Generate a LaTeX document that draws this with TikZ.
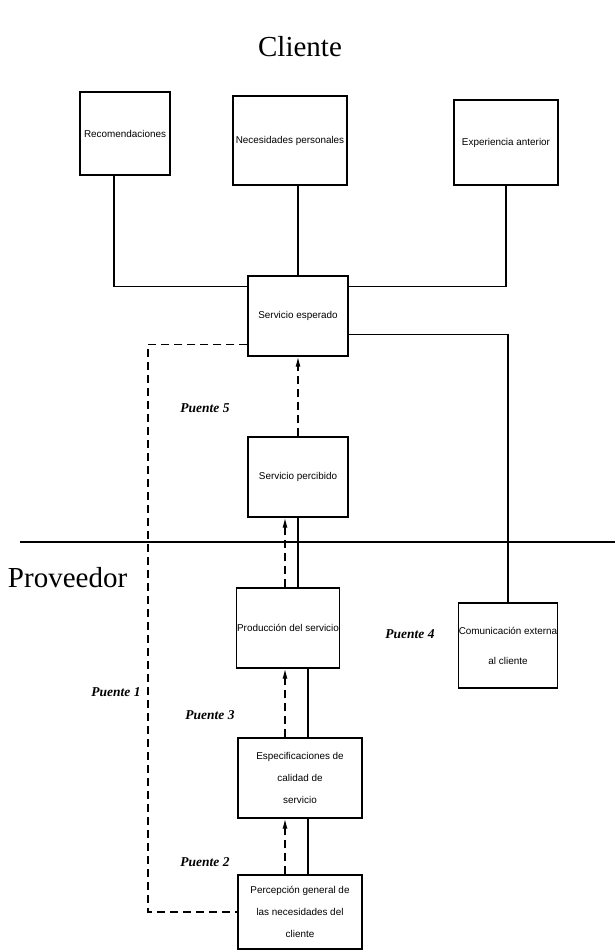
\documentclass[tikz,border=0pt]{standalone}
\usepackage{fontspec}
\setmainfont{Liberation Serif}
\setsansfont{Liberation Sans}
\usepackage{tikz}
\usetikzlibrary{arrows.meta}

\tikzset{
  caja/.style={draw, line width=1.3pt, inner sep=0.5pt, align=center,
               font=\sffamily\fontsize{9.9}{22}\selectfont},
  puente/.style={dashed, dash pattern=on 8pt off 5pt, line width=1.3pt,
                 -{Latex[length=10pt, width=5pt]}},
  etiqueta/.style={font=\bfseries\itshape\fontsize{13.5}{16}\selectfont},
  titulo/.style={font=\fontsize{29}{34}\selectfont}
}

\begin{document}
\begin{tikzpicture}[x=1pt, y=-1pt, line width=1.3pt]

\useasboundingbox (0, 0) rectangle (615, 951);

% titles
\node[titulo] (cliente) at (300, 47) {Cliente};
\node[titulo, anchor=west] (proveedor) at (4, 578) {Proveedor};

% customer boxes
\node[caja, minimum width=90, minimum height=83] (reco) at (125, 133.5) {Recomendaciones};
\node[caja, minimum width=114, minimum height=89] (nec) at (290, 140.5) {Necesidades personales};
\node[caja, minimum width=104, minimum height=85] (exp) at (506, 142.5) {Experiencia anterior};
\node[caja, minimum width=100, minimum height=80] (esperado) at (298, 316) {Servicio esperado};
\node[caja, minimum width=100, minimum height=80] (percibido) at (298, 477) {Servicio percibido};

% provider boxes
\node[caja, minimum width=100, minimum height=80] (produccion) at (288, 628) {Producción del servicio};
\node[caja, minimum width=98, minimum height=85] (comunicacion) at (508, 645.5) {Comunicación externa\\[8pt]al cliente};
\node[caja, minimum width=124, minimum height=80] (especif) at (300, 778) {Especificaciones de\\calidad de\\servicio};
\node[caja, minimum width=124, minimum height=74] (percepcion) at (300, 912) {Percepción general de\\las necesidades del\\cliente};

% draw line between customer and provider
\coordinate (izq) at (20, 542);
\coordinate (der) at (615, 542);
\draw (izq) -- (der);

% draw solid connectors
\draw ([xshift=-11]reco.south) |- ([yshift=-11]esperado.north west);
\draw (esperado.north) -- (esperado.north |- nec.south);
\draw (exp.south) |- ([yshift=-11]esperado.north east);
\draw ([yshift=22]esperado.south east) -| (comunicacion.north);
\draw (percibido.south) -- (percibido.south |- produccion.north);
\draw ([xshift=20]produccion.south) -- ([xshift=20]produccion.south |- especif.north);
\draw ([xshift=8]especif.south) -- ([xshift=8]especif.south |- percepcion.north);

% draw dashed gaps
\coordinate (esquina) at (148, 912);
\draw[dashed, dash pattern=on 8pt off 5pt] ([yshift=12]esperado.south west) -| (esquina) -- (percepcion.west);
\draw[puente] (percibido.north) -- (esperado.south);
\draw[puente] ([xshift=-3]produccion.north) -- ([xshift=-3]produccion.north |- percibido.south);
\draw[puente] ([xshift=-3]produccion.south |- especif.north) -- ([xshift=-3]produccion.south);
\draw[puente] ([xshift=-15]percepcion.north) -- ([xshift=-15]percepcion.north |- especif.south);

% draw labels
\node[etiqueta] (p5) at (205, 408) {Puente 5};
\node[etiqueta] (p4) at (410, 634) {Puente 4};
\node[etiqueta] (p1) at (116, 692) {Puente 1};
\node[etiqueta] (p3) at (210, 715) {Puente 3};
\node[etiqueta] (p2) at (205, 862) {Puente 2};

\end{tikzpicture}
\end{document}
